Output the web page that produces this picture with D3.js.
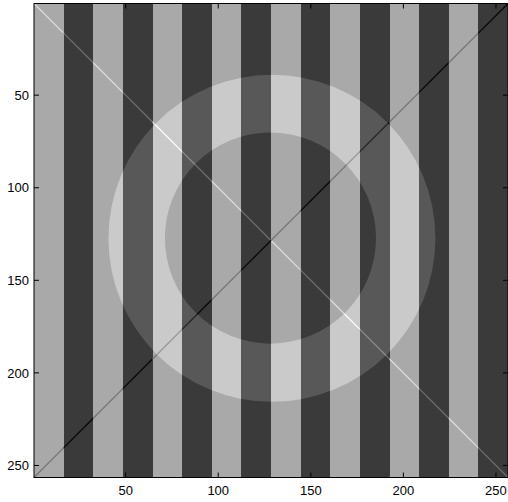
<!DOCTYPE html>
<html>
<head>
<meta charset="utf-8">
<script src="https://cdn.jsdelivr.net/npm/d3@7"></script>
<style>
  html, body { margin: 0; padding: 0; background: #ffffff; }
  svg { display: block; }
  text { font-family: "Liberation Sans", Arial, Helvetica, sans-serif; font-size: 13px; fill: #000; }
</style>
</head>
<body>
<script>
// ---- data ----
const imageSize = 256;
const stripeStarts = [0, 16, 32, 48, 64, 80, 96, 112, 128, 144, 160, 176, 192, 208, 224, 240];
const stripeKinds  = ["light", "dark", "light", "dark", "light", "dark", "light", "dark",
                      "light", "dark", "light", "dark", "light", "dark", "light", "dark"];
const stripeWidth = 16;
const baseLevels = { light: 169, dark: 58 };   // grey level outside ring and inside inner disk
const ringLevels = { light: 202, dark: 88 };   // grey level inside the bright ring
const lineDeltas = [50, -50];                  // main diagonal brighter, anti-diagonal darker
const ringCenter = [129, 127.3];               // column, row
const ringRadii = [88.3, 57];                  // outer, inner
const innerCenter = [128.2, 127.2];
const xTicks = [50, 100, 150, 200, 250];
const yTicks = [50, 100, 150, 200, 250];

// ---- layout ----
const W = 508, H = 502;
const svg = d3.select("body").append("svg").attr("width", W).attr("height", H);
const x = d3.scaleLinear().domain([0.5, imageSize + 0.5]).range([34, 508]);
const y = d3.scaleLinear().domain([0.5, imageSize + 0.5]).range([3.5, 477.5]);
const grey = v => { const c = Math.max(0, Math.min(255, Math.round(v))); return d3.rgb(c, c, c).toString(); };

const defs = svg.append("defs");
defs.append("clipPath").attr("id", "plotClip").append("rect")
  .attr("x", x(0.5)).attr("y", y(0.5)).attr("width", x(imageSize + 0.5) - x(0.5)).attr("height", y(imageSize + 0.5) - y(0.5));
defs.append("clipPath").attr("id", "outerClip").append("ellipse")
  .attr("cx", x(ringCenter[0])).attr("cy", y(ringCenter[1]))
  .attr("rx", x(ringRadii[0]) - x(0)).attr("ry", y(ringRadii[0]) - y(0));
defs.append("clipPath").attr("id", "innerClip").append("ellipse")
  .attr("cx", x(innerCenter[0])).attr("cy", y(innerCenter[1]))
  .attr("rx", x(ringRadii[1]) - x(0)).attr("ry", y(ringRadii[1]) - y(0));

const stripes = stripeStarts.map((s, i) => ({ c0: s + 0.5, c1: s + stripeWidth + 0.5, kind: stripeKinds[i] }));

function drawLayer(g, levels) {
  g.selectAll("rect.stripe").data(stripes).join("rect")
    .attr("class", "stripe")
    .attr("x", d => x(d.c0)).attr("width", d => x(d.c1) - x(d.c0))
    .attr("y", y(0.5)).attr("height", y(imageSize + 0.5) - y(0.5))
    .attr("fill", d => grey(levels[d.kind]))
    .attr("shape-rendering", "crispEdges");
  // main diagonal: row = column; anti-diagonal: row = 257 - column
  [0, 1].forEach(k => {
    g.selectAll("polygon.diag" + k).data(stripes).join("polygon")
      .attr("class", "diag" + k)
      .attr("points", d => {
        const a = d.c0, b = d.c1;
        const ra = k === 0 ? a : imageSize + 1 - a;
        const rb = k === 0 ? b : imageSize + 1 - b;
        return [[x(a), y(ra - 0.5)], [x(b), y(rb - 0.5)], [x(b), y(rb + 0.5)], [x(a), y(ra + 0.5)]]
          .map(p => p.join(",")).join(" ");
      })
      .attr("fill", d => grey(levels[d.kind] + lineDeltas[k]));
  });
}

const plot = svg.append("g").attr("clip-path", "url(#plotClip)");
drawLayer(plot.append("g"), baseLevels);
drawLayer(plot.append("g").attr("clip-path", "url(#outerClip)"), ringLevels);
drawLayer(plot.append("g").attr("clip-path", "url(#innerClip)"), baseLevels);

// ---- axes (MATLAB style: box, inward ticks) ----
const tickLen = 5;
const axisG = svg.append("g");
const x0 = x(0.5), x1 = x(imageSize + 0.5), y0 = y(0.5), y1 = y(imageSize + 0.5);
axisG.append("rect").attr("x", x0).attr("y", y0).attr("width", x1 - x0).attr("height", y1 - y0)
  .attr("fill", "none").attr("stroke", "#000").attr("stroke-width", 1);

axisG.selectAll("line.xtb").data(xTicks).join("line").attr("class", "xtb")
  .attr("x1", d => x(d)).attr("x2", d => x(d)).attr("y1", y1).attr("y2", y1 - tickLen).attr("stroke", "#000");
axisG.selectAll("line.xtt").data(xTicks).join("line").attr("class", "xtt")
  .attr("x1", d => x(d)).attr("x2", d => x(d)).attr("y1", y0).attr("y2", y0 + tickLen).attr("stroke", "#000");
axisG.selectAll("line.ytl").data(yTicks).join("line").attr("class", "ytl")
  .attr("y1", d => y(d)).attr("y2", d => y(d)).attr("x1", x0).attr("x2", x0 + tickLen).attr("stroke", "#000");
axisG.selectAll("line.ytr").data(yTicks).join("line").attr("class", "ytr")
  .attr("y1", d => y(d)).attr("y2", d => y(d)).attr("x1", x1).attr("x2", x1 - tickLen).attr("stroke", "#000");

axisG.selectAll("text.xl").data(xTicks).join("text").attr("class", "xl")
  .attr("x", d => x(d)).attr("y", y1 + 17).attr("text-anchor", "middle").text(d => d);
axisG.selectAll("text.yl").data(yTicks).join("text").attr("class", "yl")
  .attr("x", x0 - 5).attr("y", d => y(d)).attr("dy", "0.36em").attr("text-anchor", "end").text(d => d);
</script>
</body>
</html>
